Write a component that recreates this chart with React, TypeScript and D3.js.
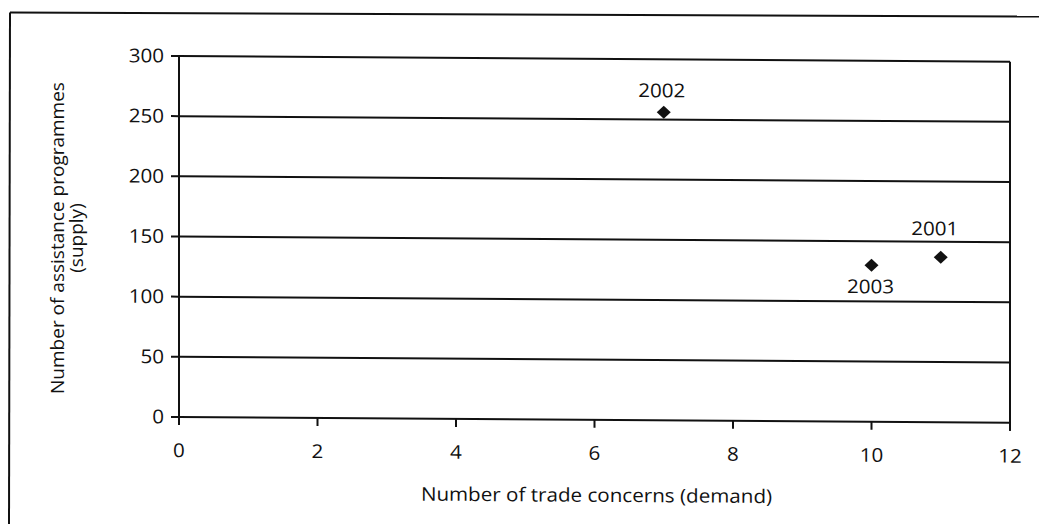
import React from 'react';
import * as d3 from 'd3';

const years = ['2001', '2002', '2003'];
const tradeConcerns = [11, 7, 10];
const assistanceProgrammes = [137, 256, 130];
const xTickValues = [0, 2, 4, 6, 8, 10, 12];
const yTickValues = [0, 50, 100, 150, 200, 250, 300];
const xTitle = 'Number of trade concerns (demand)';
const yTitleLines = ['Number of assistance programmes', '(supply)'];

// label offsets relative to the marker (style only)
const labelOffset: Record<string, [number, number]> = {
  '2001': [-6, -22],
  '2002': [-2, -15],
  '2003': [-1, 28],
};

const W = 1039;
const H = 524;
const FONT = "'Open Sans', 'Noto Sans', sans-serif";
const FS = 19;
const SX = 1.085; // horizontal stretch of the scan
const INK = '#111';

function HText({ x, y, anchor, children }: { x: number; y: number; anchor: string; children: React.ReactNode }) {
  return (
    <text transform={`translate(${x},${y}) scale(${SX},1)`} textAnchor={anchor} fontSize={FS}>
      {children}
    </text>
  );
}

export default function App() {
  const x = d3.scaleLinear().domain([0, 12]).range([179, 1010]);
  const y = d3.scaleLinear().domain([0, 300]).range([417, 56]);
  const k = 0.0068; // scan skew
  const x0 = x.range()[0];
  const x1 = x.range()[1];

  const points = years.map((yr, i) => ({
    yr,
    px: x(tradeConcerns[i]),
    py: y(assistanceProgrammes[i]),
  }));

  const diamond = (cx: number, cy: number) =>
    `M${cx},${cy - 6.5}L${cx + 7},${cy}L${cx},${cy + 6.5}L${cx - 7},${cy}Z`;

  return (
    <svg
      width={W}
      height={H}
      viewBox={`0 0 ${W} ${H}`}
      style={{ position: 'absolute', left: 0, top: 0, background: '#fff' }}
    >
      <rect x={0} y={0} width={W} height={H} fill="#fff" />
      {/* outer frame */}
      <line x1={10} y1={12.5} x2={W} y2={16.5} stroke={INK} strokeWidth={2} />
      <line x1={10} y1={12.5} x2={9} y2={H} stroke={INK} strokeWidth={2} />

      <g transform={`matrix(1, ${k}, 0, 1, 0, ${-k * x0})`} fontFamily={FONT} fill={INK}>
        {/* gridlines */}
        {yTickValues.map((v) => (
          <g key={`gy${v}`}>
            <line x1={x0} x2={x1} y1={y(v)} y2={y(v)} stroke={INK} strokeWidth={2} />
            <line x1={x0 - 8} x2={x0} y1={y(v)} y2={y(v)} stroke={INK} strokeWidth={2} />
            <HText x={x0 - 15} y={y(v) + 6.5} anchor="end">
              {v}
            </HText>
          </g>
        ))}
        {/* axes frame */}
        <line x1={x0} x2={x0} y1={y(300)} y2={y(0) + 8} stroke={INK} strokeWidth={2} />
        <line x1={x1} x2={x1} y1={y(300)} y2={y(0) + 8} stroke={INK} strokeWidth={2} />
        {xTickValues.map((v) => (
          <g key={`gx${v}`}>
            <line x1={x(v)} x2={x(v)} y1={y(0)} y2={y(0) + 8} stroke={INK} strokeWidth={2} />
            <HText x={x(v)} y={y(0) + 40} anchor="middle">
              {v}
            </HText>
          </g>
        ))}
        {/* points */}
        {points.map((p) => (
          <g key={p.yr}>
            <path d={diamond(p.px, p.py)} fill={INK} />
            <HText x={p.px + labelOffset[p.yr][0]} y={p.py + labelOffset[p.yr][1]} anchor="middle">
              {p.yr}
            </HText>
          </g>
        ))}
        {/* x title */}
        <HText x={(x0 + x1) / 2 + 2} y={499} anchor="middle">
          {xTitle}
        </HText>
      </g>
      {/* y title */}
      <g fontFamily={FONT} fill={INK} fontSize={FS}>
        {yTitleLines.map((t, i) => (
          <text
            key={t}
            transform={`translate(${64 + i * 19}, 238) rotate(-90)`}
            textAnchor="middle"
          >
            {t}
          </text>
        ))}
      </g>
    </svg>
  );
}
